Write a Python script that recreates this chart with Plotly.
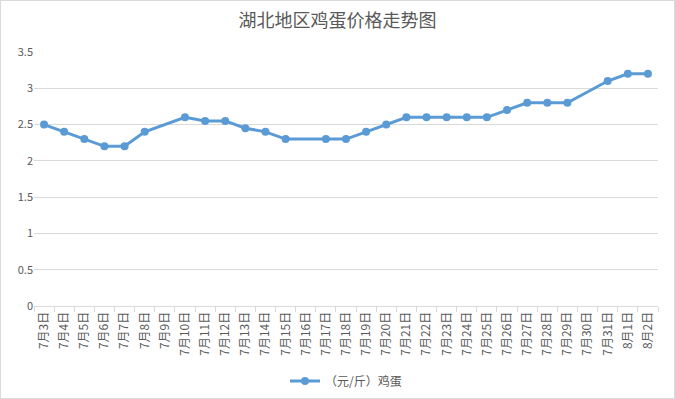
import plotly.graph_objects as go

categories = ["7月3日", "7月4日", "7月5日", "7月6日", "7月7日", "7月8日", "7月9日", "7月10日",
              "7月11日", "7月12日", "7月13日", "7月14日", "7月15日", "7月16日", "7月17日", "7月18日",
              "7月19日", "7月20日", "7月21日", "7月22日", "7月23日", "7月24日", "7月25日", "7月26日",
              "7月27日", "7月28日", "7月29日", "7月30日", "7月31日", "8月1日", "8月2日"]
prices = [2.5, 2.4, 2.3, 2.2, 2.2, 2.4, None, 2.6,
          2.55, 2.55, 2.45, 2.4, 2.3, None, 2.3, 2.3,
          2.4, 2.5, 2.6, 2.6, 2.6, 2.6, 2.6, 2.7,
          2.8, 2.8, 2.8, None, 3.1, 3.2, 3.2]
series_name = "（元/斤）鸡蛋"
title_text = "湖北地区鸡蛋价格走势图"

W, H = 675, 399
ml, mr, mt, mb = 34, 17, 52, 93
pw, ph = W - ml - mr, H - mt - mb

font_family = "Noto Sans CJK SC, Noto Sans, sans-serif"
gray = "#595959"

fig = go.Figure()
fig.add_trace(go.Scatter(
    x=categories, y=prices, mode="lines+markers", name=series_name,
    connectgaps=True,
    line=dict(color="#5b9bd5", width=3),
    marker=dict(color="#5b9bd5", size=8),
))

fig.update_layout(
    width=W, height=H,
    margin=dict(l=ml, r=mr, t=mt, b=mb, autoexpand=False),
    paper_bgcolor="white", plot_bgcolor="white",
    font=dict(family=font_family, color=gray, size=12),
    title=dict(text=title_text, x=0.5, xanchor="center", y=1 - 21 / H, yanchor="middle",
               font=dict(size=18, color=gray, family=font_family)),
    showlegend=True,
    legend=dict(orientation="h", x=0.5, xanchor="center", y=-(381 - (H - mb)) / ph, yanchor="middle",
                font=dict(size=12, color=gray), bgcolor="rgba(0,0,0,0)"),
    xaxis=dict(type="category", tickson="boundaries", ticks="outside", ticklen=5,
               tickcolor="#d9d9d9", showline=True, linecolor="#d9d9d9", linewidth=1,
               showgrid=False, tickangle=-90, tickfont=dict(size=12, color=gray),
               range=[-0.5, len(categories) - 0.5]),
    yaxis=dict(range=[0, 3.5], dtick=0.5, tick0=0, showgrid=True, gridcolor="#d9d9d9",
               gridwidth=1, zeroline=False, showline=False, ticks="",
               tickfont=dict(size=11, color=gray), tickformat="~g"),
    shapes=[dict(type="rect", xref="paper", yref="paper",
                 x0=-(ml - 0.5) / pw, x1=1 + (mr - 0.5) / pw,
                 y0=-(mb - 0.5) / ph, y1=1 + (mt - 0.5) / ph,
                 line=dict(color="#d9d9d9", width=1), layer="below")],
)

fig.write_html("out.html", config={"displayModeBar": False},
               post_script="document.body.style.margin='0';document.body.style.overflow='hidden';")
